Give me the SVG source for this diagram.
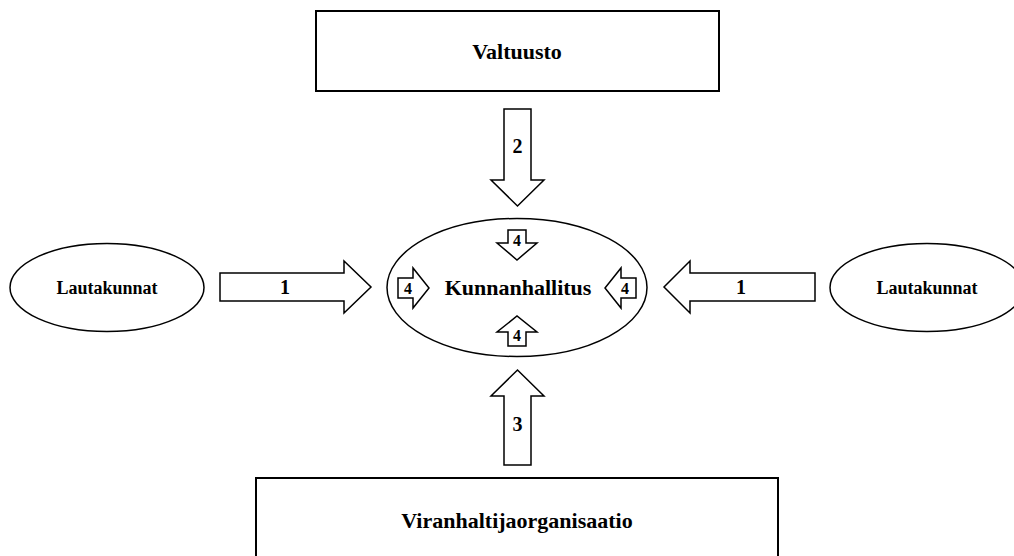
<svg xmlns="http://www.w3.org/2000/svg" width="1014" height="556" viewBox="0 0 1014 556">
<style>
.box{fill:#fff;stroke:#000;stroke-width:2}
.ell{fill:#fff;stroke:#000;stroke-width:1.5}
.arr{fill:#fff;stroke:#000;stroke-width:1.5;stroke-linejoin:miter}
.t{font-family:"Liberation Serif","Times New Roman",serif;font-weight:bold;fill:#000;text-anchor:middle}
.big{font-size:22px}
.mid{font-size:18px}
.num{font-size:20px}
.sm{font-size:16px}
</style>
<rect width="1014" height="556" fill="#fff"/>
<g id="valtuusto">
<rect class="box" x="316" y="11" width="403" height="80"/>
<text class="t big" x="517" y="59">Valtuusto</text>
</g>
<g id="viranhaltijaorganisaatio">
<rect class="box" x="256" y="478" width="522" height="90"/>
<text class="t big" x="517" y="528">Viranhaltijaorganisaatio</text>
</g>
<g id="lautakunnat-left">
<ellipse class="ell" cx="107" cy="287.5" rx="97" ry="44"/>
<text class="t mid" x="107" y="294">Lautakunnat</text>
</g>
<g id="lautakunnat-right">
<ellipse class="ell" cx="927" cy="287.5" rx="97" ry="44"/>
<text class="t mid" x="927" y="294">Lautakunnat</text>
</g>
<g id="kunnanhallitus">
<ellipse class="ell" cx="517" cy="287.5" rx="130" ry="69"/>
<text class="t big" x="518" y="295">Kunnanhallitus</text>
<path class="arr" d="M508,230 H526 V243 H537 L517,260 L497,243 H508 Z"/>
<text class="t sm" x="517" y="246">4</text>
<path class="arr" d="M508,346 V332 H497 L517,316 L537,332 H526 V346 Z"/>
<text class="t sm" x="517" y="341">4</text>
<path class="arr" d="M398,278 H413 V268 L429,288 L413,308 V298 H398 Z"/>
<text class="t sm" x="408" y="294">4</text>
<path class="arr" d="M636,278 H621 V268 L605,288 L621,308 V298 H636 Z"/>
<text class="t sm" x="625" y="294">4</text>
</g>
<g id="connectors">
<path class="arr" d="M504,109 H531 V180 H544 L517.5,206 L491,180 H504 Z"/>
<text class="t num" x="517.5" y="153">2</text>
<path class="arr" d="M504,465 V396 H491 L517.5,370 L544,396 H531 V465 Z"/>
<text class="t num" x="517.5" y="431">3</text>
<path class="arr" d="M220,273 H344 V261 L371,287 L344,313 V301 H220 Z"/>
<text class="t num" x="285" y="294">1</text>
<path class="arr" d="M815,273 H690 V261 L664,287 L690,313 V301 H815 Z"/>
<text class="t num" x="741" y="294">1</text>
</g>
</svg>
